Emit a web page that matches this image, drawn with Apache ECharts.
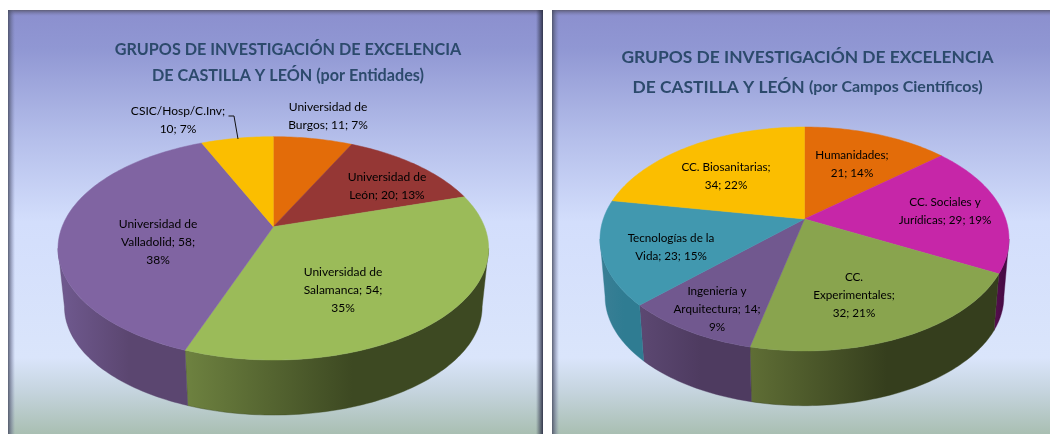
<!DOCTYPE html>
<html><head><meta charset="utf-8">
<style>html,body{margin:0;padding:0;background:#fff}#c{width:1050px;height:434px}</style>
<script src="https://cdn.jsdelivr.net/npm/echarts@6/dist/echarts.min.js"></script>
</head><body><div id="c"></div>
<script>
// ---- data ----
const entidadesNames = ['Universidad de Burgos','Universidad de León','Universidad de Salamanca','Universidad de Valladolid','CSIC/Hosp/C.Inv'];
const entidadesValues = [11,20,54,58,10];
const entidadesLabels = ['Universidad de\nBurgos; 11; 7%','Universidad de\nLeón; 20; 13%','Universidad de\nSalamanca; 54;\n35%','Universidad de\nValladolid; 58;\n38%','CSIC/Hosp/C.Inv;\n10; 7%'];
const camposNames = ['Humanidades','CC. Sociales y Jurídicas','CC. Experimentales','Ingeniería y Arquitectura','Tecnologías de la Vida','CC. Biosanitarias'];
const camposValues = [21,29,32,14,23,34];
const camposLabels = ['Humanidades;\n21; 14%','CC. Sociales y\nJurídicas; 29; 19%','CC.\nExperimentales;\n32; 21%','Ingeniería y\nArquitectura; 14;\n9%','Tecnologías de la\nVida; 23; 15%','CC. Biosanitarias;\n34; 22%'];

// ---- layout and style ----
const pieA = {cx:273.3, apex:226.7, a:211.2, b:107.5, k:0.194, apex2:285.7, scale2:0.97, labelSize:12,
  colors:['#E36C09','#953735','#9BBB59','#8064A2','#FBBE00'],
  walls:[['#8a4206','#8a4206'],['#5a2120','#5a2120'],['#6E8240','#3D4922'],['#705A90','#5B4670'],['#a57d00','#a57d00']],
  labelPos:[[328,116],[387,186],[343,290],[158,242],[178,120]]};
const pieB = {cx:804.5, apex:219, a:201.2, b:108.4, k:0.1786, apex2:277, scale2:0.975, labelSize:11.7,
  colors:['#E36C09','#C626A8','#89A44E','#71588F','#4198AF','#FBBE00'],
  walls:[['#8a4206','#8a4206'],['#5A0F50','#470B45'],['#5F6E35','#353E1D'],['#5C4872','#4E3B60'],['#3A7F95','#2F7C92'],['#a57d00','#a57d00']],
  labelPos:[[852,164],[945,211],[854,295],[717,309],[671,247],[726,176]]};
const labelFont = {fontFamily:'Lato', lineHeight:18, fill:'#000', align:'center', verticalAlign:'middle'};

function project(p, theta, bottom){
  const s = bottom ? p.scale2 : 1, ap = bottom ? p.apex2 : p.apex;
  const den = 1 + p.k*Math.cos(theta);
  return [p.cx + s*p.a*Math.sin(theta)/den, ap - s*p.b*Math.cos(theta)/den];
}
function arc(p, t0, t1, bottom){
  const n = Math.max(2, Math.ceil(Math.abs(t1-t0)/0.02)), pts=[];
  for(let i=0;i<=n;i++) pts.push(project(p, t0+(t1-t0)*i/n, bottom));
  return pts;
}
function sliceSpan(values, i){
  const total = values.reduce((a,b)=>a+b,0);
  const before = values.slice(0,i).reduce((a,b)=>a+b,0);
  return [before/total*2*Math.PI, (before+values[i])/total*2*Math.PI];
}
function wallSeries(p, values, names){
  const edge = Math.acos(-p.k);   // where the rim turns away from the viewer
  return {type:'custom', coordinateSystem:'none', z:3, silent:true,
    data:values.map((v,i)=>({name:names[i], value:v})),
    renderItem(params, api){
      const i = params.dataIndex;
      let [t0,t1] = sliceSpan(values,i);
      t0 = Math.max(t0, edge); t1 = Math.min(t1, 2*Math.PI-edge);
      if(t1<=t0) return {type:'group', children:[]};
      const pts = arc(p,t0,t1,false).concat(arc(p,t1,t0,true));
      const w = p.walls[i];
      return {type:'polygon', shape:{points:pts},
        style:{fill:new echarts.graphic.LinearGradient(0,0,1,0,[{offset:0,color:w[0]},{offset:.55,color:w[1]},{offset:1,color:w[1]}]), stroke:w[1], lineWidth:0.4}};
    }};
}
function topSeries(p, values, names, labels){
  return {type:'custom', coordinateSystem:'none', z:4, silent:true,
    data:values.map((v,i)=>({name:names[i], value:v})),
    renderItem(params, api){
      const i = params.dataIndex;
      const [t0,t1] = sliceSpan(values,i);
      const pts = [[p.cx,p.apex]].concat(arc(p,t0,t1,false));
      return {type:'group', children:[
        {type:'polygon', z2:1, shape:{points:pts}, style:{fill:p.colors[i], stroke:p.colors[i], lineWidth:0.5}},
        {type:'text', z2:10, x:p.labelPos[i][0], y:p.labelPos[i][1], style:Object.assign({text:labels[i], fontSize:p.labelSize},labelFont)}
      ]};
    }};
}

const panelFill = ()=>new echarts.graphic.LinearGradient(0,0,0,1,[
  {offset:0,color:'#8B8FCE'},{offset:.09,color:'#9097D3'},{offset:.3,color:'#B4BEEA'},{offset:.5,color:'#D3DEFC'},
  {offset:.82,color:'#DAE5FB'},{offset:.9,color:'#C5D4DE'},{offset:1,color:'#A9BFB2'}]);
const hGrad = (a,b)=>new echarts.graphic.LinearGradient(0,0,1,0,[{offset:0,color:a},{offset:1,color:b}]);
const vGrad = (a,b)=>new echarts.graphic.LinearGradient(0,0,0,1,[{offset:0,color:a},{offset:1,color:b}]);
function panel(x,w,rightEdge){
  const y=10,h=424,els=[
    {type:'rect',z:0,shape:{x,y,width:w,height:h},style:{fill:panelFill()}},
    {type:'rect',z:1,shape:{x,y,width:w,height:6},style:{fill:vGrad('rgba(85,85,105,.85)','rgba(120,120,170,0)')}},
    {type:'rect',z:1,shape:{x,y,width:7,height:h},style:{fill:hGrad('rgba(70,75,95,.85)','rgba(110,115,160,0)')}}];
  if(rightEdge) els.push({type:'rect',z:1,shape:{x:x+w-7,y,width:7,height:h},style:{fill:hGrad('rgba(50,55,80,0)','rgba(45,48,70,.95)')}});
  return els;
}
const titleColor = '#2C4A6C';
const chart = echarts.init(document.getElementById('c'),null,{renderer:'canvas'});
chart.setOption({
  animation:false,
  backgroundColor:'#fff',
  title:[
    {left:283, top:32, textAlign:'center', text:'GRUPOS DE INVESTIGACIÓN DE EXCELENCIA\nDE CASTILLA Y LEÓN (por Entidades)',
     textStyle:{fontFamily:'Lato',fontWeight:'bold',fontSize:16.2,lineHeight:26,color:titleColor}},
    {left:802.5, top:37, textAlign:'center', text:'{a|GRUPOS DE INVESTIGACIÓN DE EXCELENCIA}\n{a|DE CASTILLA Y LEÓN }{b|(por Campos Científicos)}',
     textStyle:{rich:{a:{fontFamily:'Lato',fontWeight:'bold',fontSize:17.4,lineHeight:30,color:titleColor},
                      b:{fontFamily:'Lato',fontWeight:'bold',fontSize:16,lineHeight:30,color:titleColor}}}}
  ],
  graphic:{elements:[...panel(8,535,true),...panel(552,498,false),
    {type:'polyline',z:20,shape:{points:[[228.5,116],[234,116],[238,139]]},style:{stroke:'#111',lineWidth:1,fill:null}}]},
  series:[wallSeries(pieA,entidadesValues,entidadesNames),topSeries(pieA,entidadesValues,entidadesNames,entidadesLabels),
          wallSeries(pieB,camposValues,camposNames),topSeries(pieB,camposValues,camposNames,camposLabels)]
});
</script></body></html>
